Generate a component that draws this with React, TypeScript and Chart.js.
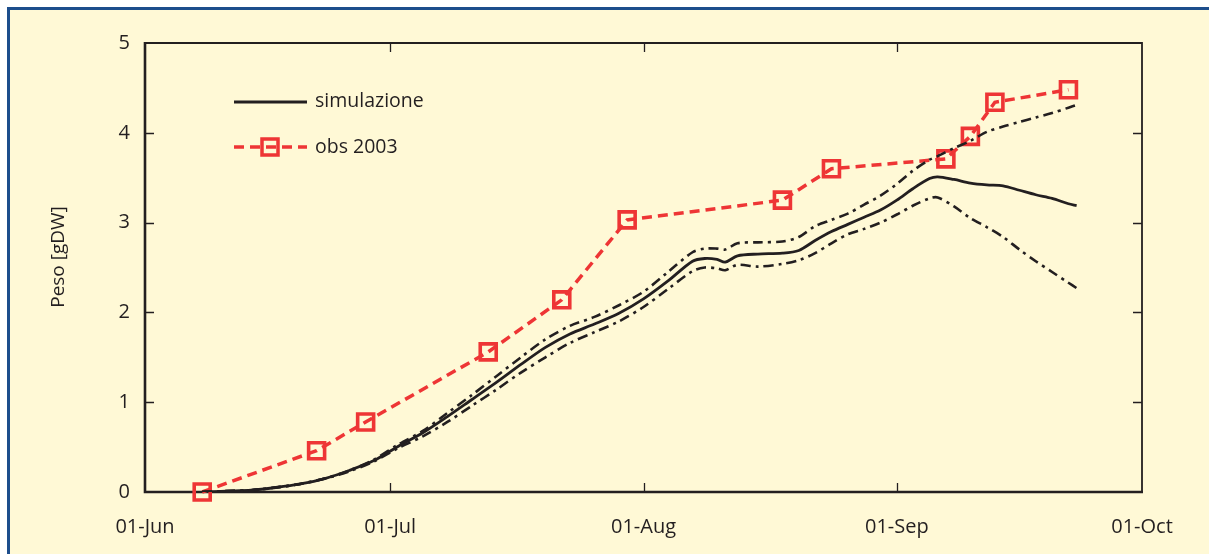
import React, { useEffect, useRef } from "react";
import { Chart, registerables } from "chart.js";

Chart.register(...registerables);

// Days since 01-Jun
const xTickDays = [0, 30, 61, 92, 122];
const xTickLabels = ["01-Jun", "01-Jul", "01-Aug", "01-Sep", "01-Oct"];
const yTickValues = [0, 1, 2, 3, 4, 5];

const simDays = [7, 10, 13, 16, 19, 22, 25, 28, 31, 34, 37, 40, 43, 46, 49, 52, 55, 58, 61, 64, 67, 68.5, 70, 71, 72.5, 75, 78, 80, 82, 84, 86, 88, 90, 92, 94, 96, 97, 99, 101, 103, 105, 107, 109, 111, 113, 114];
const simMean = [0, 0.01, 0.02, 0.05, 0.09, 0.15, 0.24, 0.35, 0.51, 0.66, 0.84, 1.03, 1.22, 1.42, 1.61, 1.76, 1.87, 1.99, 2.15, 2.35, 2.57, 2.6, 2.59, 2.56, 2.63, 2.65, 2.66, 2.69, 2.8, 2.9, 2.98, 3.06, 3.14, 3.25, 3.38, 3.49, 3.51, 3.48, 3.44, 3.42, 3.41, 3.36, 3.31, 3.27, 3.21, 3.19];
const simUpper = [0, 0.01, 0.02, 0.05, 0.09, 0.15, 0.24, 0.36, 0.53, 0.68, 0.88, 1.08, 1.29, 1.5, 1.7, 1.85, 1.95, 2.08, 2.23, 2.45, 2.67, 2.71, 2.71, 2.7, 2.77, 2.78, 2.79, 2.84, 2.96, 3.03, 3.1, 3.2, 3.3, 3.43, 3.58, 3.7, 3.74, 3.83, 3.91, 4.01, 4.07, 4.12, 4.17, 4.22, 4.28, 4.31];
const simLower = [0, 0.01, 0.02, 0.05, 0.09, 0.15, 0.23, 0.34, 0.49, 0.62, 0.78, 0.96, 1.14, 1.33, 1.5, 1.66, 1.78, 1.9, 2.06, 2.26, 2.46, 2.5, 2.49, 2.47, 2.53, 2.51, 2.54, 2.58, 2.66, 2.77, 2.87, 2.93, 3.0, 3.09, 3.19, 3.27, 3.28, 3.18, 3.05, 2.95, 2.84, 2.7, 2.57, 2.45, 2.33, 2.27];

const obsDays = [7, 21, 27, 42, 51, 59, 78, 84, 98, 101, 104, 113];
const obsValues = [0, 0.46, 0.78, 1.56, 2.14, 3.03, 3.25, 3.6, 3.71, 3.96, 4.34, 4.48];

const legendLabels = ["simulazione", "obs 2003"];
const yAxisTitle = "Peso [gDW]";

const FONT = "'Open Sans', 'Noto Sans', sans-serif";
const INK = "#231F20";
const RED = "#EE3535";
const CREAM = "#FFF9D6";
const BLUE = "#1D4E8C";

const pts = (xs: number[], ys: number[]) => xs.map((x, i) => ({ x, y: ys[i] }));

const decorPlugin = {
  id: "decor",
  beforeDraw(chart: any) {
    const { ctx, width, height } = chart;
    ctx.save();
    ctx.fillStyle = "#ffffff";
    ctx.fillRect(0, 0, width, height);
    ctx.fillStyle = BLUE;
    ctx.fillRect(7, 7, width + 10, height + 10);
    ctx.fillStyle = CREAM;
    ctx.fillRect(10, 10, width + 10, height + 10);
    ctx.restore();
  },
  beforeDatasetsDraw(chart: any) {
    const { ctx, chartArea } = chart;
    const { left, right, top, bottom } = chartArea;
    const xs = chart.scales.x;
    const ys = chart.scales.y;
    ctx.save();
    ctx.strokeStyle = INK;
    ctx.lineCap = "butt";
    // frame
    ctx.lineWidth = 1.8;
    ctx.beginPath();
    ctx.moveTo(left, top);
    ctx.lineTo(right, top);
    ctx.lineTo(right, bottom);
    ctx.stroke();
    ctx.lineWidth = 2.6;
    ctx.beginPath();
    ctx.moveTo(left, top - 1);
    ctx.lineTo(left, bottom);
    ctx.lineTo(right + 1, bottom);
    ctx.stroke();
    // inner ticks
    ctx.lineWidth = 1.3;
    const tl = 9;
    yTickValues.slice(1, -1).forEach((v) => {
      const y = Math.round(ys.getPixelForValue(v)) + 0.5;
      ctx.beginPath();
      ctx.moveTo(left, y);
      ctx.lineTo(left + tl, y);
      ctx.moveTo(right, y);
      ctx.lineTo(right - tl, y);
      ctx.stroke();
    });
    xTickDays.slice(1, -1).forEach((d) => {
      const x = Math.round(xs.getPixelForValue(d)) + 0.5;
      ctx.beginPath();
      ctx.moveTo(x, bottom);
      ctx.lineTo(x, bottom - tl);
      ctx.moveTo(x, top);
      ctx.lineTo(x, top + tl);
      ctx.stroke();
    });
    // y axis title
    ctx.fillStyle = INK;
    ctx.font = `19px ${FONT}`;
    ctx.textAlign = "center";
    ctx.textBaseline = "middle";
    ctx.translate(59, 257);
    ctx.rotate(-Math.PI / 2);
    ctx.fillText(yAxisTitle, 0, 0);
    ctx.restore();
  },
  afterDraw(chart: any) {
    const { ctx } = chart;
    ctx.save();
    // legend: simulazione
    ctx.strokeStyle = INK;
    ctx.lineWidth = 2.8;
    ctx.beginPath();
    ctx.moveTo(234, 102);
    ctx.lineTo(307, 102);
    ctx.stroke();
    // legend: obs 2003
    ctx.strokeStyle = RED;
    ctx.lineWidth = 3.5;
    ctx.setLineDash([10, 6]);
    ctx.beginPath();
    ctx.moveTo(234, 147);
    ctx.lineTo(307, 147);
    ctx.stroke();
    ctx.setLineDash([]);
    ctx.strokeRect(270 - 8, 147 - 8, 16, 16);
    ctx.fillStyle = INK;
    ctx.font = `19.5px ${FONT}`;
    ctx.textAlign = "left";
    ctx.textBaseline = "middle";
    ctx.fillText(legendLabels[0], 315, 101);
    ctx.fillText(legendLabels[1], 315, 147);
    ctx.restore();
  },
};

export default function App() {
  const canvasRef = useRef<HTMLCanvasElement | null>(null);

  useEffect(() => {
    const canvas = canvasRef.current;
    if (!canvas) return;
    const dashDot = [10, 5, 3, 5];
    const chart = new Chart(canvas, {
      type: "line",
      data: {
        datasets: [
          {
            label: "upper",
            data: pts(simDays, simUpper),
            borderColor: INK,
            borderWidth: 2.6,
            borderDash: dashDot,
            pointRadius: 0,
            tension: 0.3,
            fill: false,
          },
          {
            label: "lower",
            data: pts(simDays, simLower),
            borderColor: INK,
            borderWidth: 2.6,
            borderDash: dashDot,
            pointRadius: 0,
            tension: 0.3,
            fill: false,
          },
          {
            label: legendLabels[0],
            data: pts(simDays, simMean),
            borderColor: INK,
            borderWidth: 2.8,
            pointRadius: 0,
            tension: 0.3,
            fill: false,
          },
          {
            label: legendLabels[1],
            data: pts(obsDays, obsValues),
            borderColor: RED,
            borderWidth: 3.5,
            borderDash: [10, 6],
            pointStyle: "rect",
            pointRadius: 11.3,
            pointBorderWidth: 3.6,
            pointBorderColor: RED,
            pointBackgroundColor: "rgba(0,0,0,0)",
            tension: 0,
            fill: false,
            clip: false,
          } as any,
        ],
      },
      options: {
        responsive: false,
        animation: false,
        events: [],
        layout: { padding: { left: 0, top: 43, right: 67, bottom: 0 } },
        plugins: {
          legend: { display: false },
          tooltip: { enabled: false },
          title: { display: false },
        },
        scales: {
          x: {
            type: "linear",
            min: 0,
            max: 122,
            afterBuildTicks: (s: any) => {
              s.ticks = xTickDays.map((v) => ({ value: v }));
            },
            afterFit: (s: any) => {
              s.height = 62;
            },
            ticks: {
              autoSkip: false,
              maxRotation: 0,
              padding: 23,
              color: INK,
              font: { family: FONT, size: 20 },
              callback: (v: any) => xTickLabels[xTickDays.indexOf(Number(v))] ?? "",
            },
            grid: { display: false, drawTicks: false },
            border: { display: false },
          },
          y: {
            type: "linear",
            min: 0,
            max: 5,
            afterBuildTicks: (s: any) => {
              s.ticks = yTickValues.map((v) => ({ value: v }));
            },
            afterFit: (s: any) => {
              s.width = 145;
            },
            ticks: {
              padding: 15,
              color: INK,
              font: { family: FONT, size: 20 },
              callback: (v: any) => String(v),
            },
            grid: { display: false, drawTicks: false },
            border: { display: false },
          },
        },
      },
      plugins: [decorPlugin],
    });
    return () => chart.destroy();
  }, []);

  return (
    <div style={{ position: "absolute", left: 0, top: 0, width: 1209, height: 554 }}>
      <canvas ref={canvasRef} width={1209} height={554} style={{ display: "block" }} />
    </div>
  );
}
